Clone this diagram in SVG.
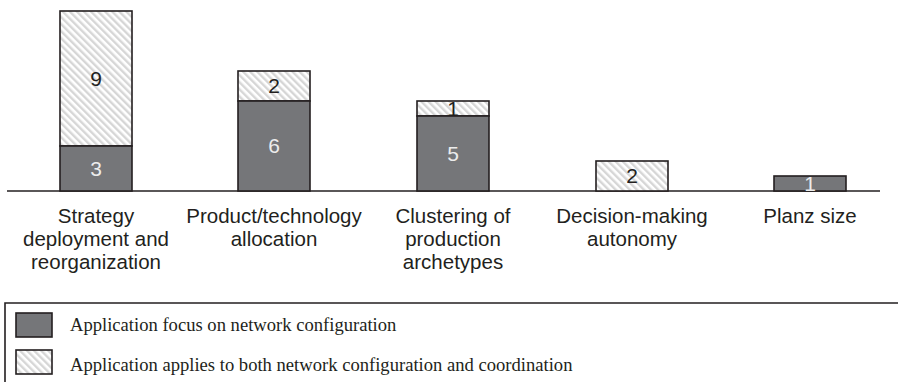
<svg xmlns="http://www.w3.org/2000/svg" width="898" height="382" viewBox="0 0 898 382">
<style>
.dark{fill:#757679;stroke:#231f20;stroke-width:1.6}
.hatch{fill:url(#h);stroke:#231f20;stroke-width:1.6}
.lab{font-family:"Liberation Sans",Arial,sans-serif;font-size:20.5px;fill:#231f20;text-anchor:middle}
.num{font-family:"Liberation Sans",Arial,sans-serif;font-size:21px;text-anchor:middle}
.w{fill:#ececec}
.b{fill:#231f20}
.leg{font-family:"Liberation Serif","Times New Roman",serif;font-size:18.6px;fill:#231f20}
</style>
<defs>
<pattern id="h" patternUnits="userSpaceOnUse" width="5" height="10" patternTransform="rotate(-45)">
<rect x="0" y="0" width="5" height="10" fill="#ffffff"/>
<rect x="0" y="0" width="2.4" height="10" fill="#d6d6d6"/>
</pattern>
</defs>
<g id="connectors">
<line x1="7" y1="191" x2="880" y2="191" stroke="#231f20" stroke-width="1.6"/>
</g>
<g id="bar1">
<rect class="hatch" x="60" y="11" width="72" height="135"/>
<rect class="dark" x="60" y="146" width="72" height="45"/>
<text class="num b" x="96" y="86">9</text>
<text class="num w" x="96" y="176">3</text>
<text class="lab" x="96" y="223">Strategy</text>
<text class="lab" x="96" y="246">deployment and</text>
<text class="lab" x="96" y="269">reorganization</text>
</g>
<g id="bar2">
<rect class="hatch" x="238" y="71" width="72" height="30"/>
<rect class="dark" x="238" y="101" width="72" height="90"/>
<text class="num b" x="274" y="93">2</text>
<text class="num w" x="274" y="153">6</text>
<text class="lab" x="274" y="223">Product/technology</text>
<text class="lab" x="274" y="246">allocation</text>
</g>
<g id="bar3">
<rect class="hatch" x="417" y="101" width="72" height="15"/>
<rect class="dark" x="417" y="116" width="72" height="75"/>
<text class="num b" x="453" y="116">1</text>
<text class="num w" x="453" y="161">5</text>
<text class="lab" x="453" y="223">Clustering of</text>
<text class="lab" x="453" y="246">production</text>
<text class="lab" x="453" y="269">archetypes</text>
</g>
<g id="bar4">
<rect class="hatch" x="596" y="161" width="72" height="30"/>
<text class="num b" x="632" y="183">2</text>
<text class="lab" x="632" y="223">Decision-making</text>
<text class="lab" x="632" y="246">autonomy</text>
</g>
<g id="bar5">
<rect class="dark" x="774" y="176" width="72" height="15"/>
<text class="num w" x="810" y="191">1</text>
<text class="lab" x="810" y="223">Planz size</text>
</g>
<g id="legend">
<path d="M5,382 V303 H898" fill="none" stroke="#231f20" stroke-width="1.6"/>
<rect class="dark" x="16" y="313" width="36" height="24"/>
<text class="leg" x="70" y="331">Application focus on network configuration</text>
<rect class="hatch" x="16" y="350" width="36" height="24"/>
<text class="leg" x="70" y="371">Application applies to both network configuration and coordination</text>
</g>
</svg>
